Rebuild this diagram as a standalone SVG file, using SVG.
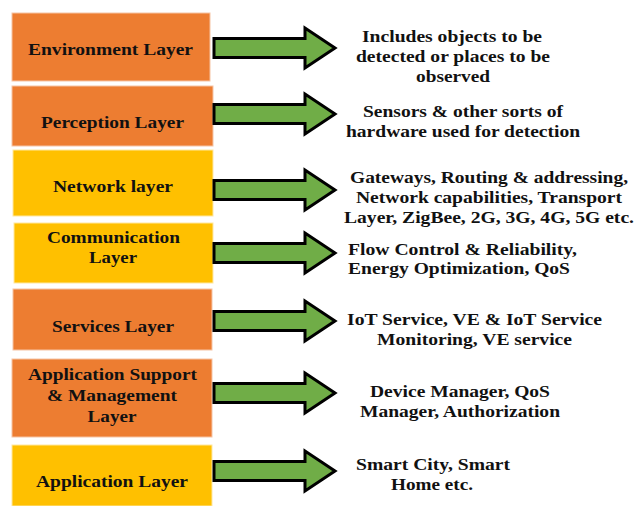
<svg xmlns="http://www.w3.org/2000/svg" width="635" height="506" viewBox="0 0 635 506" font-family="Liberation Serif, Times New Roman, serif">
<defs>
<style>
.o{fill:#ED7D31;stroke:#F6C4A4;stroke-width:1}
.y{fill:#FFC000;stroke:#FFE8A0;stroke-width:1}
.a{fill:#70AD47;stroke:#000;stroke-width:3;stroke-linejoin:miter}
text{font-weight:700;font-size:17px;fill:#111;text-anchor:middle}
.l{text-anchor:start}
</style>
<path id="arr" d="M0,-9.5 H91 V-20 L121,0 L91,20 V9.5 H0 Z"/>
</defs>
<rect width="635" height="506" fill="#fff"/>
<g id="node-environment"><rect class="o" x="12" y="13" width="198" height="68"/><text x="110.5" y="55" textLength="165" lengthAdjust="spacingAndGlyphs">Environment Layer</text></g>
<g id="node-perception"><rect class="o" x="12" y="86" width="201" height="60"/><text x="112.5" y="128" textLength="143" lengthAdjust="spacingAndGlyphs">Perception Layer</text></g>
<g id="node-network"><rect class="y" x="13" y="150" width="200" height="66"/><text x="113" y="192" textLength="120" lengthAdjust="spacingAndGlyphs">Network layer</text></g>
<g id="node-communication"><rect class="y" x="14" y="223" width="199" height="60"/><text x="113.5" y="243" textLength="133" lengthAdjust="spacingAndGlyphs">Communication</text><text x="113" y="263" textLength="48" lengthAdjust="spacingAndGlyphs">Layer</text></g>
<g id="node-services"><rect class="o" x="13" y="289" width="199" height="61"/><text x="113" y="332" textLength="122" lengthAdjust="spacingAndGlyphs">Services Layer</text></g>
<g id="node-appsupport"><rect class="o" x="12" y="359" width="200" height="78"/><text x="112.5" y="380" textLength="169" lengthAdjust="spacingAndGlyphs">Application Support</text><text x="112" y="401" textLength="130" lengthAdjust="spacingAndGlyphs">&amp; Management</text><text x="112" y="422" textLength="49" lengthAdjust="spacingAndGlyphs">Layer</text></g>
<g id="node-application"><rect class="y" x="12" y="445" width="200" height="61"/><text x="112" y="487" textLength="152" lengthAdjust="spacingAndGlyphs">Application Layer</text></g>
<g id="connectors">
<use href="#arr" class="a" x="214" y="48"/>
<use href="#arr" class="a" x="214" y="114"/>
<use href="#arr" class="a" x="214" y="190"/>
<use href="#arr" class="a" x="214" y="253"/>
<use href="#arr" class="a" x="214" y="321"/>
<use href="#arr" class="a" x="214" y="393"/>
<use href="#arr" class="a" x="214" y="471"/>
</g>
<g id="desc-environment"><text x="452" y="42" textLength="180" lengthAdjust="spacingAndGlyphs">Includes objects to be</text><text x="453" y="62" textLength="194" lengthAdjust="spacingAndGlyphs">detected or places to be</text><text x="453" y="82" textLength="74" lengthAdjust="spacingAndGlyphs">observed</text></g>
<g id="desc-perception"><text x="463" y="117" textLength="200" lengthAdjust="spacingAndGlyphs">Sensors &amp; other sorts of</text><text x="463" y="137" textLength="234" lengthAdjust="spacingAndGlyphs">hardware used for detection</text></g>
<g id="desc-network"><text x="489" y="183" textLength="278" lengthAdjust="spacingAndGlyphs">Gateways, Routing &amp; addressing,</text><text x="489" y="203" textLength="266" lengthAdjust="spacingAndGlyphs">Network capabilities, Transport</text><text x="489" y="223" textLength="290" lengthAdjust="spacingAndGlyphs">Layer, ZigBee, 2G, 3G, 4G, 5G etc.</text></g>
<g id="desc-communication"><text class="l" x="348" y="255" textLength="229" lengthAdjust="spacingAndGlyphs">Flow Control &amp; Reliability,</text><text class="l" x="348" y="274" textLength="222" lengthAdjust="spacingAndGlyphs">Energy Optimization, QoS</text></g>
<g id="desc-services"><text x="474.5" y="325" textLength="255" lengthAdjust="spacingAndGlyphs">IoT Service, VE &amp; IoT Service</text><text x="474.5" y="345" textLength="195" lengthAdjust="spacingAndGlyphs">Monitoring, VE service</text></g>
<g id="desc-appsupport"><text x="460" y="397" textLength="180" lengthAdjust="spacingAndGlyphs">Device Manager, QoS</text><text x="460" y="417" textLength="200" lengthAdjust="spacingAndGlyphs">Manager, Authorization</text></g>
<g id="desc-application"><text x="433" y="470" textLength="154" lengthAdjust="spacingAndGlyphs">Smart City, Smart</text><text x="432" y="490" textLength="82" lengthAdjust="spacingAndGlyphs">Home etc.</text></g>
</svg>
